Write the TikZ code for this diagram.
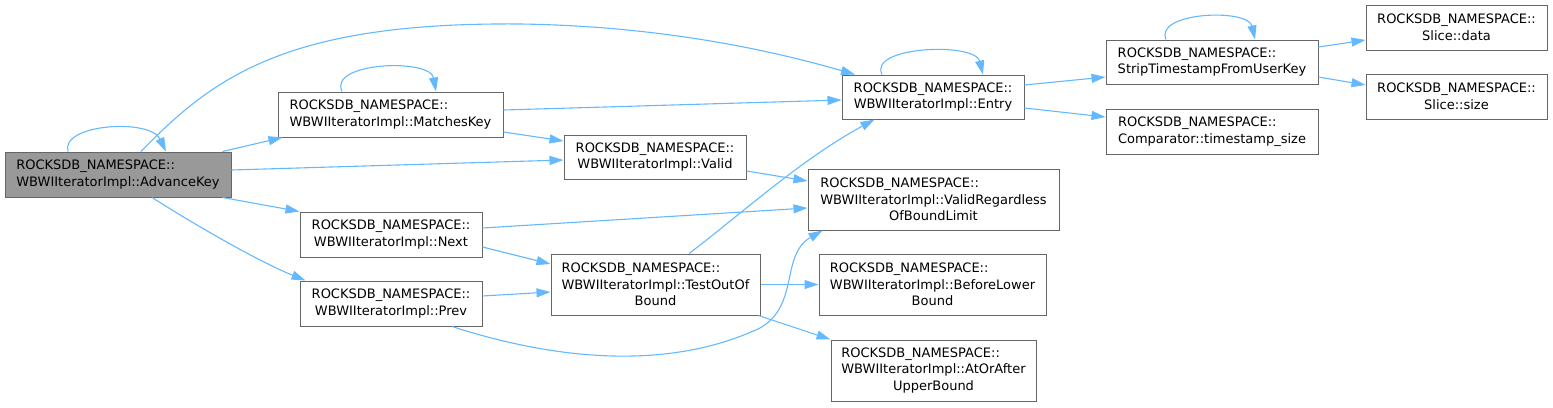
\documentclass[tikz,border=0pt]{standalone}
\usepackage{fontspec}
\setmainfont{DejaVu Sans}
\usetikzlibrary{arrows.meta, calc}
\definecolor{edgeblue}{HTML}{63B8FF}
\definecolor{boxline}{HTML}{666666}
\definecolor{boxgrey}{HTML}{999999}

\begin{document}
\begin{tikzpicture}[
  x=1pt, y=-1pt,
  box/.style={draw=boxline, line width=1pt, fill=white, rectangle, inner sep=0pt, minimum height=45pt, font=\fontsize{13}{16.7}\selectfont},
  tall/.style={box, minimum height=61pt},
  call/.style={draw=edgeblue, line width=1.1pt, -{Triangle[length=14pt, width=9pt]}},
  >={Triangle[length=14pt, width=9pt]}
]
\useasboundingbox (0,0) rectangle (1553,407);

\node[box, fill=boxgrey, minimum width=226pt, align=left] (advance) at (118,174.5) {ROCKSDB\_NAMESPACE::\\WBWIIteratorImpl::AdvanceKey};
\node[box, minimum width=225pt, align=left] (matches) at (390.5,114.5) {ROCKSDB\_NAMESPACE::\\WBWIIteratorImpl::MatchesKey};
\node[box, minimum width=182pt, align=center] (next) at (391,234.5) {ROCKSDB\_NAMESPACE::\\WBWIIteratorImpl::Next};
\node[box, minimum width=182pt, align=center] (prev) at (391,303.5) {ROCKSDB\_NAMESPACE::\\WBWIIteratorImpl::Prev};
\node[box, minimum width=182pt, minimum height=44pt, align=center] (valid) at (655,157) {ROCKSDB\_NAMESPACE::\\WBWIIteratorImpl::Valid};
\node[box, minimum width=182pt, minimum height=44pt, align=center] (entry) at (933,97) {ROCKSDB\_NAMESPACE::\\WBWIIteratorImpl::Entry};
\node[tall, minimum width=251pt, align=left] (regardless) at (933.5,199.5) {ROCKSDB\_NAMESPACE::\\WBWIIteratorImpl::ValidRegardless\\\hspace*{\fill}OfBoundLimit\hspace*{\fill}};
\node[tall, minimum width=209pt, align=left] (outof) at (655.5,284.5) {ROCKSDB\_NAMESPACE::\\WBWIIteratorImpl::TestOutOf\\\hspace*{\fill}Bound\hspace*{\fill}};
\node[tall, minimum width=227pt, align=left] (lower) at (932.5,284.5) {ROCKSDB\_NAMESPACE::\\WBWIIteratorImpl::BeforeLower\\\hspace*{\fill}Bound\hspace*{\fill}};
\node[tall, minimum width=205pt, align=left] (upper) at (933.5,370.5) {ROCKSDB\_NAMESPACE::\\WBWIIteratorImpl::AtOrAfter\\\hspace*{\fill}UpperBound\hspace*{\fill}};
\node[box, minimum width=212pt, minimum height=44pt, align=left] (strip) at (1212,62) {ROCKSDB\_NAMESPACE::\\StripTimestampFromUserKey};
\node[box, minimum width=212pt, align=left] (tssize) at (1212,131.5) {ROCKSDB\_NAMESPACE::\\Comparator::timestamp\_size};
\node[box, minimum width=181pt, align=center] (data) at (1456.5,27.5) {ROCKSDB\_NAMESPACE::\\Slice::data};
\node[box, minimum width=181pt, align=center] (size) at (1456.5,96.5) {ROCKSDB\_NAMESPACE::\\Slice::size};

\draw[call] ([xshift=-50]advance.north) .. controls (60,124) and (150,118) .. ([xshift=48]advance.north);
\draw[call] ([xshift=23]advance.north) .. controls (215,75) and (290,22) .. (520,24) .. controls (660,26) and (770,50) .. ([xshift=-78]entry.north);
\draw[call] ([xshift=-9]advance.north east) -- ([xshift=5]matches.south west);
\draw[call] ([yshift=4.5]advance.east) -- ([yshift=-3]valid.west);
\draw[call] ([xshift=-9]advance.south east) -- (next.north west);
\draw[call] ([xshift=34]advance.south) .. controls (200,228) and (260,262) .. ([xshift=6]prev.north west);

\draw[call] ([xshift=-48.5]matches.north) .. controls (328,62) and (430,58) .. ([xshift=45.5]matches.north);
\draw[call] ([yshift=4.5]matches.east) -- ([yshift=-3]entry.west);
\draw[call] ([yshift=-17.5]matches.east) -- ([yshift=16]valid.west);
\draw[call] ([yshift=-14]valid.east) -- ([yshift=18.5]regardless.west);
\draw[call] ([yshift=6.5]next.east) -- ([yshift=-8.5]regardless.west);
\draw[call] ([yshift=-12.5]next.east) -- ([yshift=20.5]outof.west);
\draw[call] ([yshift=7.5]prev.east) -- ([yshift=-7.5]outof.west);
\draw[call] ([xshift=61]prev.south) .. controls (540,355) and (660,375) .. (760,328) .. controls (800,305) and (780,255) .. ([xshift=15]regardless.south west);

\draw[call] ([xshift=33.5]outof.north) .. controls (740,215) and (800,160) .. ([xshift=33]entry.south west);
\draw[call] (outof.east) -- (lower.west);
\draw[call] ([xshift=-2]outof.south east) -- (upper.north west);

\draw[call] ([xshift=-51]entry.north) .. controls (868,46) and (975,42) .. ([xshift=50]entry.north);
\draw[call] ([yshift=12]entry.east) -- ([yshift=-15]strip.west);
\draw[call] ([yshift=-11]entry.east) -- ([yshift=14.5]tssize.west);

\draw[call] ([xshift=-46]strip.north) .. controls (1154,12) and (1248,8) .. ([xshift=43]strip.north);
\draw[call] ([yshift=15]strip.east) -- ([yshift=-12.5]data.west);
\draw[call] ([yshift=-15]strip.east) -- ([yshift=11.5]size.west);
\end{tikzpicture}
\end{document}
